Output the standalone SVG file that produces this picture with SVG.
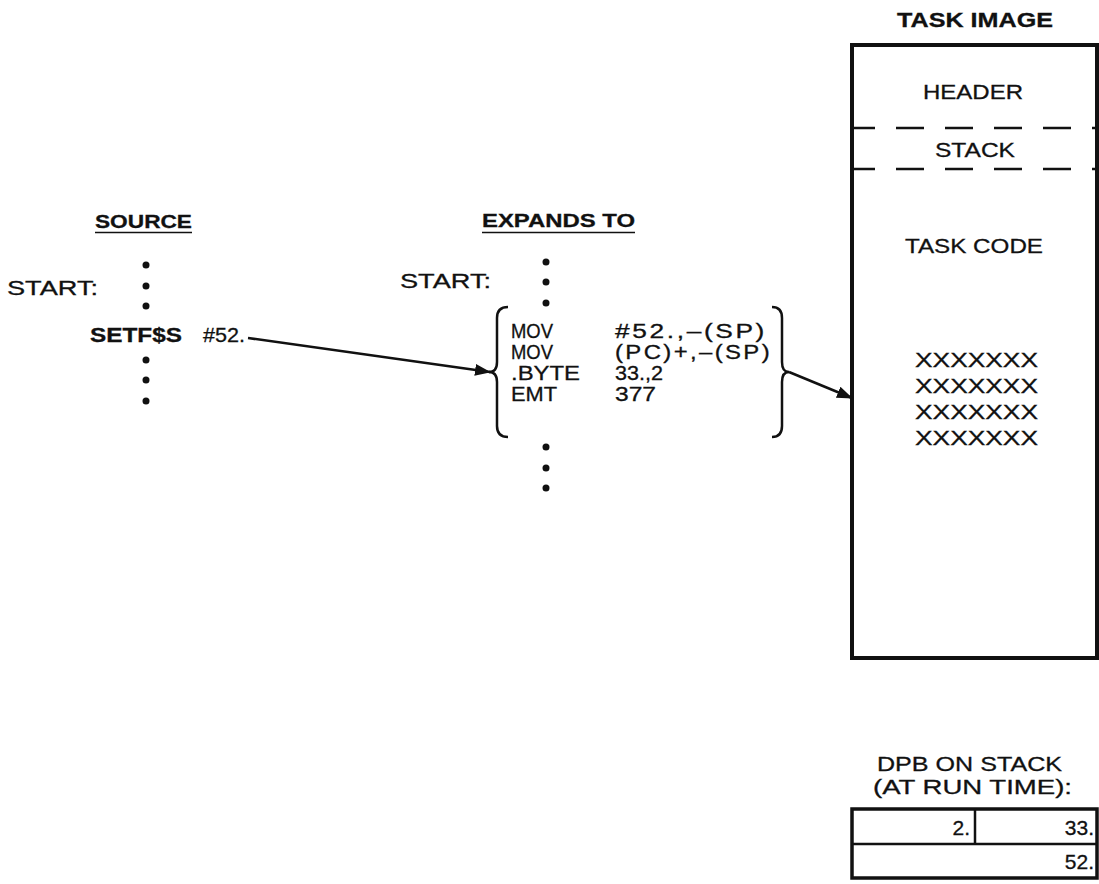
<svg xmlns="http://www.w3.org/2000/svg" width="1099" height="884" viewBox="0 0 1099 884">
<style>
text{font-family:"Liberation Sans",Arial,sans-serif;font-size:21px;fill:#111;stroke:#111;stroke-width:0.3}
.b{font-weight:bold}
.h{font-size:19px;font-weight:bold}
.c{font-size:20px}
.op{font-size:20px;letter-spacing:2px}
.dot{fill:#111}
.ln{stroke:#111;fill:none}
.dash{stroke:#111;stroke-width:2.5;stroke-dasharray:28 21;stroke-dashoffset:5}
</style>
<defs>
<marker id="ah" markerUnits="userSpaceOnUse" markerWidth="16" markerHeight="12" refX="15" refY="6" orient="auto">
<path d="M0,0 L16,6 L0,12 Z" fill="#111"/>
</marker>
</defs>
<rect width="1099" height="884" fill="#fff"/>

<g id="source">
<text class="h" x="95" y="228" textLength="97" lengthAdjust="spacingAndGlyphs">SOURCE</text>
<line class="ln" x1="95" y1="232.5" x2="192" y2="232.5" stroke-width="1.5"/>
<text x="7" y="295" textLength="91" lengthAdjust="spacingAndGlyphs">START:</text>
<circle class="dot" cx="146" cy="265" r="3.5"/>
<circle class="dot" cx="146" cy="286" r="3.5"/>
<circle class="dot" cx="146" cy="306" r="3.5"/>
<text class="b" x="90" y="342" font-size="22" textLength="92" lengthAdjust="spacingAndGlyphs">SETF$S</text>
<text x="203" y="342" textLength="42" lengthAdjust="spacingAndGlyphs">#52.</text>
<circle class="dot" cx="146" cy="360" r="3.5"/>
<circle class="dot" cx="146" cy="380" r="3.5"/>
<circle class="dot" cx="146" cy="401" r="3.5"/>
</g>

<g id="expands">
<text class="h" x="482" y="227" textLength="153" lengthAdjust="spacingAndGlyphs">EXPANDS TO</text>
<line class="ln" x1="482" y1="232.5" x2="635" y2="232.5" stroke-width="1.5"/>
<text x="400" y="288" textLength="91" lengthAdjust="spacingAndGlyphs">START:</text>
<circle class="dot" cx="546" cy="262" r="3.5"/>
<circle class="dot" cx="546" cy="282" r="3.5"/>
<circle class="dot" cx="546" cy="303" r="3.5"/>
<path class="ln" stroke-width="2.5" d="M508,307 Q497,307 497,318 L497,362 Q497,372 489,372 Q497,372 497,382 L497,426 Q497,437 508,437"/>
<text class="c" x="511" y="338" textLength="42" lengthAdjust="spacingAndGlyphs">MOV</text>
<text class="c" x="511" y="359" textLength="42" lengthAdjust="spacingAndGlyphs">MOV</text>
<text class="c" x="511" y="380" textLength="69" lengthAdjust="spacingAndGlyphs">.BYTE</text>
<text class="c" x="511" y="401" textLength="46" lengthAdjust="spacingAndGlyphs">EMT</text>
<text class="op" x="615" y="338" textLength="152" lengthAdjust="spacingAndGlyphs">#52.,–(SP)</text>
<text class="op" x="615" y="359" textLength="157" lengthAdjust="spacingAndGlyphs">(PC)+,–(SP)</text>
<text class="c" x="615" y="380" textLength="48" lengthAdjust="spacingAndGlyphs">33.,2</text>
<text class="c" x="615" y="401" textLength="41" lengthAdjust="spacingAndGlyphs">377</text>
<path class="ln" stroke-width="2.5" d="M772,307 Q782,307 782,318 L782,362 Q782,372 789,372 Q782,372 782,382 L782,426 Q782,437 772,437"/>
<circle class="dot" cx="546" cy="447" r="3.5"/>
<circle class="dot" cx="546" cy="468" r="3.5"/>
<circle class="dot" cx="546" cy="488" r="3.5"/>
</g>

<g id="task-image">
<text class="b" x="897" y="27" textLength="156" lengthAdjust="spacingAndGlyphs">TASK IMAGE</text>
<rect class="ln" x="852" y="45" width="245" height="613" stroke-width="4"/>
<text x="923" y="99" font-size="22" textLength="100" lengthAdjust="spacingAndGlyphs">HEADER</text>
<line class="dash" x1="852" y1="128" x2="1097" y2="128"/>
<text x="935" y="157" font-size="22" textLength="80" lengthAdjust="spacingAndGlyphs">STACK</text>
<line class="dash" x1="852" y1="169" x2="1097" y2="169"/>
<text x="905" y="253" textLength="138" lengthAdjust="spacingAndGlyphs">TASK CODE</text>
<text x="915" y="367" textLength="123" lengthAdjust="spacingAndGlyphs">XXXXXXX</text>
<text x="915" y="393" textLength="123" lengthAdjust="spacingAndGlyphs">XXXXXXX</text>
<text x="915" y="419" textLength="123" lengthAdjust="spacingAndGlyphs">XXXXXXX</text>
<text x="915" y="445" textLength="123" lengthAdjust="spacingAndGlyphs">XXXXXXX</text>
</g>

<g id="dpb">
<text x="877" y="771" textLength="185" lengthAdjust="spacingAndGlyphs">DPB ON STACK</text>
<text x="873" y="794" textLength="199" lengthAdjust="spacingAndGlyphs">(AT RUN TIME):</text>
<rect class="ln" x="852" y="809" width="245" height="69" stroke-width="3.5"/>
<line class="ln" x1="852" y1="844" x2="1097" y2="844" stroke-width="2.5"/>
<line class="ln" x1="975" y1="809" x2="975" y2="844" stroke-width="2.5"/>
<text x="970" y="835" text-anchor="end">2.</text>
<text x="1094" y="835" text-anchor="end">33.</text>
<text x="1094" y="869" text-anchor="end">52.</text>
</g>

<g id="connectors">
<line class="ln" x1="248" y1="338" x2="490" y2="372" stroke-width="2.5" marker-end="url(#ah)"/>
<line class="ln" x1="789" y1="372" x2="852" y2="398" stroke-width="2.5" marker-end="url(#ah)"/>
</g>
</svg>
